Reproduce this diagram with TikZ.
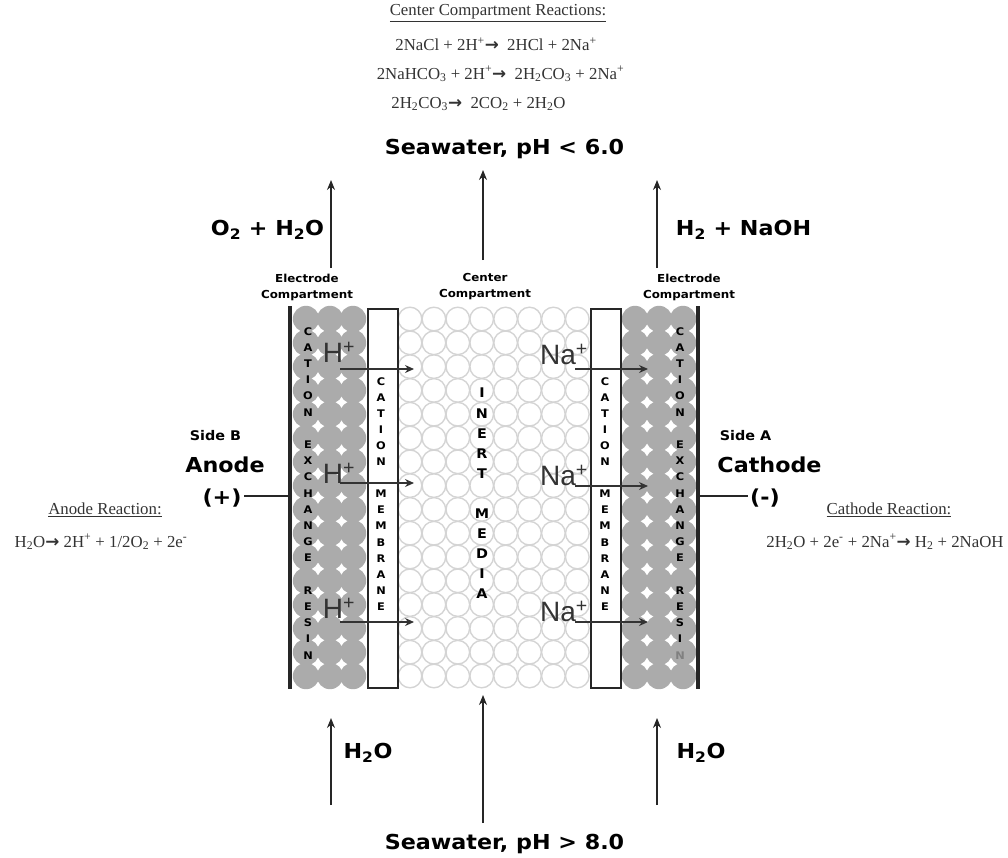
\documentclass[tikz,border=0pt]{standalone}
\usepackage{xcolor}
\usepackage{fontspec}
\setmainfont{Liberation Serif}
\setsansfont{Liberation Sans}
\newfontfamily\widefont[FakeStretch=1.08]{DejaVu Sans}
\newfontfamily\arrowfont{DejaVu Sans}
\usetikzlibrary{arrows.meta}
\definecolor{resingray}{HTML}{ABABAB}
\definecolor{mediagray}{HTML}{D4D4D4}
\definecolor{inkgray}{HTML}{333333}
\newcommand{\bigsub}[1]{\textsubscript{#1}}
\newcommand{\yields}{{\arrowfont\bfseries →}}

\begin{document}
\begin{tikzpicture}[>=Stealth, x=1pt, y=-1pt,
    flow/.style={->, line width=1.2pt, black!85, >={Stealth[length=10pt, width=8pt]}},
    ion/.style={->, line width=1.2pt, black!80, >={Stealth[length=9pt, width=8pt]}},
    wall/.style={line width=3.2pt, black!85},
    membrane/.style={draw=black!85, fill=white, line width=2pt},
    title/.style={font=\widefont\bfseries\fontsize{20.6}{24}\selectfont, inner sep=0pt},
    side/.style={font=\widefont\bfseries\fontsize{13.3}{15}\selectfont, inner sep=0pt},
    small/.style={font=\widefont\bfseries\fontsize{11}{16.5}\selectfont, inner sep=0pt, align=center},
    reaction/.style={font=\fontsize{16.8}{18}\selectfont, text=inkgray, inner sep=0pt},
    ionlabel/.style={font=\sffamily\fontsize{28}{30}\selectfont, text=inkgray, inner sep=0pt},
    stack/.style={font=\widefont\bfseries\fontsize{10.5}{#1}\selectfont, inner sep=0pt, align=center}]

    \useasboundingbox (0,0) rectangle (1008,857);

    % --- PACKED BEDS ---
    \foreach \row in {0,...,15} {
        \foreach \col in {0,...,7}
            \draw[mediagray, line width=1.4pt] (410+23.9*\col, 319+23.8*\row) circle (11.8pt);
        \foreach \col in {306,330,353, 635,659,683}
            \fill[resingray] (\col, 319+23.8*\row) circle (13.2pt);
    }

    % --- WALLS AND MEMBRANES ---
    \coordinate (WallBL) at (290,306);
    \coordinate (WallBR) at (290,689);
    \coordinate (WallAL) at (698,306);
    \coordinate (WallAR) at (698,689);
    \draw[wall] (WallBL) -- (WallBR);
    \draw[wall] (WallAL) -- (WallAR);
    \node[membrane, minimum width=30pt, minimum height=379pt, inner sep=0pt] (MemLeft) at (382.5,498.5) {};
    \node[membrane, minimum width=30pt, minimum height=379pt, inner sep=0pt] (MemRight) at (606,498.5) {};

    % --- ELECTRODE LEADS ---
    \coordinate (AnodeEnd) at (244,496);
    \coordinate (AnodeWall) at (290,496);
    \coordinate (CathodeEnd) at (748,496);
    \coordinate (CathodeWall) at (698,496);
    \draw[line width=2.5pt, black!85] (AnodeEnd) -- (AnodeWall);
    \draw[line width=2.5pt, black!85] (CathodeWall) -- (CathodeEnd);

    % --- VERTICAL LETTERING ---
    \node[stack=16.2pt, anchor=north] (ResinLeft) at (308,327) {C\\A\\T\\I\\O\\N\\~\\E\\X\\C\\H\\A\\N\\G\\E\\~\\R\\E\\S\\I\\N};
    \node[stack=16.2pt, anchor=north] (ResinRight) at (680,327) {C\\A\\T\\I\\O\\N\\~\\E\\X\\C\\H\\A\\N\\G\\E\\~\\R\\E\\S\\I\\ \textcolor{gray}{N}};
    \node[stack=16.1pt, anchor=north] (LabelLeft) at (381,377) {C\\A\\T\\I\\O\\N\\~\\M\\E\\M\\B\\R\\A\\N\\E};
    \node[stack=16.1pt, anchor=north] (LabelRight) at (605,377) {C\\A\\T\\I\\O\\N\\~\\M\\E\\M\\B\\R\\A\\N\\E};
    \node[stack=20.1pt, anchor=north, font=\widefont\bfseries\fontsize{13.3}{20.1}\selectfont] (Inert) at (482,388) {I\\N\\E\\R\\T\\~\\M\\E\\D\\I\\A};

    % --- COMPARTMENT LABELS ---
    \node[small] (CompB) at (307,287) {Electrode\\[-0.5pt]Compartment};
    \node[small] (CompC) at (485,287) {Center\\[-0.5pt]Compartment};
    \node[small] (CompA) at (689,287) {Electrode\\[-0.5pt]Compartment};

    % --- FLOW ARROWS ---
    \coordinate (OutBS) at (331,268);
    \coordinate (OutBE) at (331,180);
    \coordinate (OutCS) at (483,260);
    \coordinate (OutCE) at (483,170);
    \coordinate (OutAS) at (657,268);
    \coordinate (OutAE) at (657,180);
    \coordinate (InBS) at (331,805);
    \coordinate (InBE) at (331,718);
    \coordinate (InCS) at (483,823);
    \coordinate (InCE) at (483,695);
    \coordinate (InAS) at (657,805);
    \coordinate (InAE) at (657,718);
    \foreach \from/\to in {OutBS/OutBE, OutCS/OutCE, OutAS/OutAE, InBS/InBE, InCS/InCE, InAS/InAE}
        \draw[flow] (\from) -- (\to);

    % --- ION TRANSPORT ---
    \foreach \y/\tag in {369/a, 483/b, 622/c} {
        \coordinate (H\tag) at (340,\y);
        \coordinate (HE\tag) at (414,\y);
        \draw[ion] (H\tag) -- (HE\tag);
    }
    \foreach \y/\tag in {369/a, 486/b, 622/c} {
        \coordinate (Na\tag) at (575,\y);
        \coordinate (NaE\tag) at (648,\y);
        \draw[ion] (Na\tag) -- (NaE\tag);
    }
    \foreach \y/\tag in {352/a, 473/b, 608/c}
        \node[ionlabel] (HL\tag) at (339,\y) {H\textsuperscript{+}};
    \foreach \y/\tag in {354/a, 475/b, 611/c}
        \node[ionlabel] (NaL\tag) at (564,\y) {Na\textsuperscript{+}};

    % --- STREAM LABELS ---
    \node[title] (SeaOut) at (504.5,149) {Seawater, pH < 6.0};
    \node[title] (SeaIn) at (504.5,844) {Seawater, pH > 8.0};
    \node[title] (GasB) at (267.5,230) {O\bigsub{2} + H\bigsub{2}O};
    \node[title] (GasA) at (743.5,230) {H\bigsub{2} + NaOH};
    \node[title] (WaterB) at (368,753) {H\bigsub{2}O};
    \node[title] (WaterA) at (701,753) {H\bigsub{2}O};

    % --- ELECTRODES ---
    \node[side] (SideB) at (215.5,436) {Side B};
    \node[title] (Anode) at (225,465) {Anode};
    \node[title] (Plus) at (222,498) {(+)};
    \node[side] (SideA) at (745.5,436) {Side A};
    \node[title] (Cathode) at (769.5,465) {Cathode};
    \node[title] (Minus) at (765,498) {(-)};

    % --- REACTIONS ---
    \node[reaction] (CenterHead) at (498,13) {\underline{Center Compartment Reactions:}};
    \node[reaction] (CenterOne) at (496,44) {2NaCl + 2H\textsuperscript{+}\yields\ \ 2HCl + 2Na\textsuperscript{+}};
    \node[reaction] (CenterTwo) at (500.5,74) {2NaHCO\textsubscript{3} + 2H\textsuperscript{+}\yields\ \ 2H\textsubscript{2}CO\textsubscript{3} + 2Na\textsuperscript{+}};
    \node[reaction] (CenterThree) at (478.5,104) {2H\textsubscript{2}CO\textsubscript{3}\yields\ \ 2CO\textsubscript{2} + 2H\textsubscript{2}O};
    \node[reaction] (AnodeHead) at (105,510) {\underline{Anode Reaction:}};
    \node[reaction] (AnodeEq) at (101,542) {H\textsubscript{2}O\yields\ 2H\textsuperscript{+} + 1/2O\textsubscript{2} + 2e\textsuperscript{-}};
    \node[reaction] (CathodeHead) at (889,510) {\underline{Cathode Reaction:}};
    \node[reaction] (CathodeEq) at (885,542) {2H\textsubscript{2}O + 2e\textsuperscript{-} + 2Na\textsuperscript{+}\yields\ H\textsubscript{2} + 2NaOH};

\end{tikzpicture}
\end{document}
